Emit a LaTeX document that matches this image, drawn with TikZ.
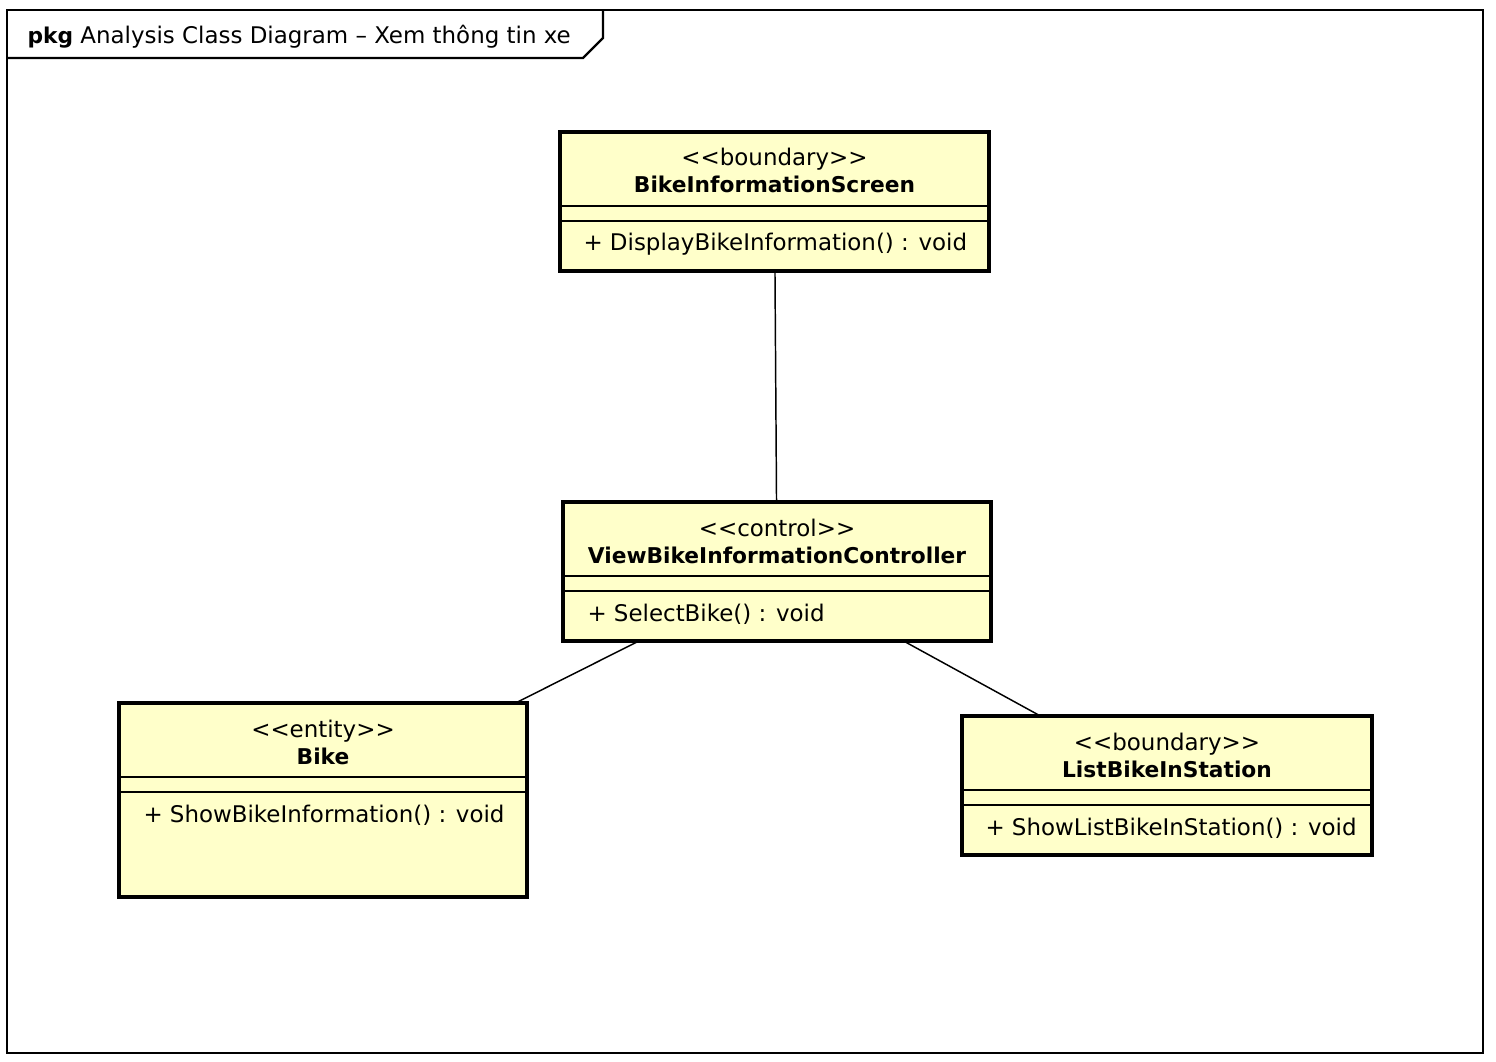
\documentclass[tikz,border=0pt]{standalone}
\usepackage{fontspec}
\setmainfont{DejaVu Sans}
\definecolor{classfill}{RGB}{255,255,202}
\newcommand{\stereo}[1]{<\kern0pt<#1>\kern0pt>}
\newcommand{\clsname}[1]{{\fontsize{16.3}{20}\selectfont\bfseries #1}}
\tikzset{every picture/.style={line width=0.75pt}}
\tikzset{
  classbox/.style={draw, line width=3pt, fill=classfill, inner sep=0pt, outer sep=0pt},
  sepline/.style={line width=1.4pt},
  assoc/.style={line width=1.1pt},
  frameline/.style={line width=1.6pt},
  umltext/.style={font=\fontsize{17.2}{20}\selectfont, inner sep=0pt},
}

\begin{document}
\begin{tikzpicture}[x=0.75pt,y=0.75pt,yscale=-1,xscale=1]
\useasboundingbox (0,0) rectangle (1496,1062);

% Frame
\draw[frameline] (7,10) rectangle (1483,1053);
\draw[frameline] (7,58) -- (583,58) -- (603,38) -- (603,10);
\node[umltext, anchor=base west] (title) at (27,44) {\clsname{pkg} Analysis Class Diagram – Xem thông tin xe};

% Class BikeInformationScreen
\node[classbox, minimum width=321.75pt, minimum height=104.25pt] (bis) at (774.5,201.5) {};
\draw[sepline] (560,206) -- (989,206);
\draw[sepline] (560,221) -- (989,221);
\node[umltext, anchor=base] (bisstereo) at (774.5,166) {\stereo{boundary}};
\node[umltext, anchor=base] (bisname) at (774.5,193) {\clsname{BikeInformationScreen}};
\node[umltext, anchor=base west] (bisop) at (583,251) {+ DisplayBikeInformation() : void};

% Class ViewBikeInformationController
\node[classbox, minimum width=321pt, minimum height=104.25pt] (vbic) at (777,571.5) {};
\draw[sepline] (563,576) -- (991,576);
\draw[sepline] (563,591) -- (991,591);
\node[umltext, anchor=base] (vbicstereo) at (777,536) {\stereo{control}};
\node[umltext, anchor=base] (vbicname) at (777,563) {\clsname{ViewBikeInformationController}};
\node[umltext, anchor=base west] (vbicop) at (587,621) {+ SelectBike() : void};

% Class Bike
\node[classbox, minimum width=306pt, minimum height=145.5pt] (bike) at (323,800) {};
\draw[sepline] (119,777) -- (527,777);
\draw[sepline] (119,792) -- (527,792);
\node[umltext, anchor=base] (bikestereo) at (323,737) {\stereo{entity}};
\node[umltext, anchor=base] (bikename) at (323,764) {\clsname{Bike}};
\node[umltext, anchor=base west] (bikeop) at (143,822) {+ ShowBikeInformation() : void};

% Class ListBikeInStation
\node[classbox, minimum width=307.5pt, minimum height=104.25pt] (lbis) at (1167,785.5) {};
\draw[sepline] (962,790) -- (1372,790);
\draw[sepline] (962,805) -- (1372,805);
\node[umltext, anchor=base] (lbisstereo) at (1167,750) {\stereo{boundary}};
\node[umltext, anchor=base] (lbisname) at (1167,777) {\clsname{ListBikeInStation}};
\node[umltext, anchor=base west] (lbisop) at (985,835) {+ ShowListBikeInStation() : void};

% Connection
\draw[assoc] (bis) -- (vbic);
% Connection
\draw[assoc] (vbic) -- (bike);
% Connection
\draw[assoc] (vbic) -- (lbis);

\end{tikzpicture}
\end{document}
